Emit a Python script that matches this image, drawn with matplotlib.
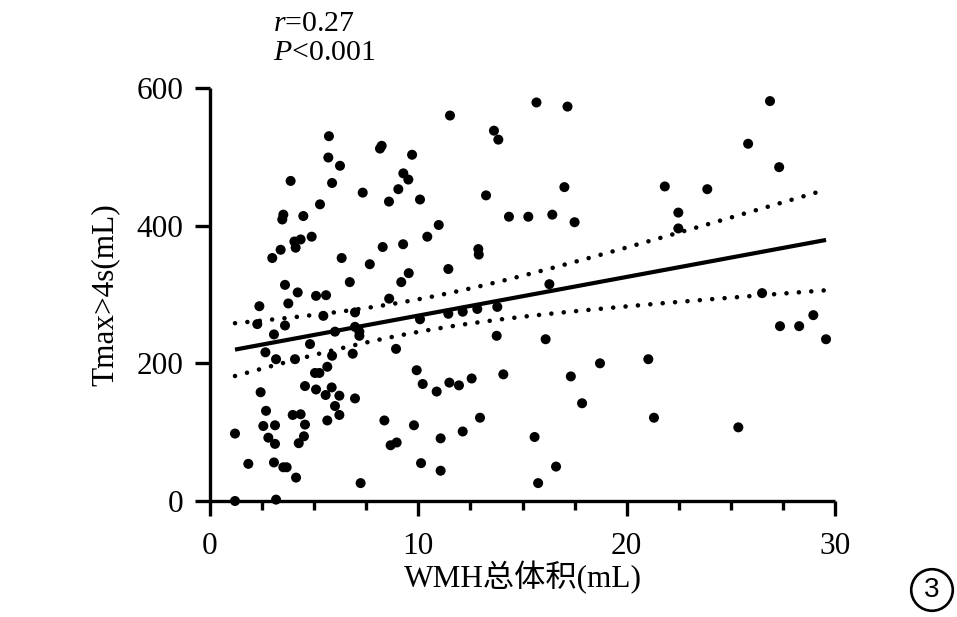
import numpy as np
import matplotlib
matplotlib.use("Agg")
import matplotlib.pyplot as plt
from matplotlib.ticker import MultipleLocator, FixedLocator

# ---- data ----
wmh_volume = [1.2, 1.2, 1.84, 2.37, 2.27, 2.66, 2.43, 2.69, 2.56, 2.8, 2.99, 3.07, 3.17, 3.12, 3.12,
              3.07, 3.17, 3.39, 3.47, 3.52, 3.6, 3.6, 3.76, 3.52, 3.68, 3.87, 4.05, 4.11, 4.35, 4.48,
              4.21, 4.08, 3.97, 4.35, 4.56, 4.51, 4.26, 4.13, 4.56, 4.88, 4.8, 5.09, 5.57, 5.28, 5.04,
              5.25, 5.09, 5.44, 5.71, 5.68, 5.86, 5.86, 5.63, 5.84, 5.55, 5.63, 6.0, 6.0, 6.24, 6.32,
              6.21, 6.21, 6.71, 6.96, 6.96, 7.17, 7.17, 6.85, 6.96, 7.23, 7.33, 7.67, 8.16, 8.24, 8.29,
              8.59, 8.6, 8.37, 8.67, 8.96, 8.93, 9.04, 9.28, 9.52, 9.27, 9.18, 9.54, 9.7, 9.92, 9.79,
              10.08, 10.08, 10.21, 10.13, 10.43, 10.98, 10.88, 11.07, 11.07, 11.44, 11.44, 11.49, 11.52,
              11.95, 12.13, 12.13, 12.56, 12.83, 12.88, 12.9, 12.96, 13.25, 13.63, 13.84, 13.79, 13.76,
              14.08, 14.35, 15.28, 15.58, 15.67, 15.75, 16.11, 16.29, 16.43, 16.61, 17.01, 17.16, 17.32,
              17.5, 17.86, 18.72, 21.04, 21.31, 21.83, 22.48, 22.48, 23.87, 25.36, 25.83, 26.5, 26.88,
              27.32, 27.36, 28.28, 28.96, 29.57]
tmax_volume = [98, 0, 54, 283, 257, 216, 158, 131, 109, 92, 353, 242, 206, 110, 83,
               56, 2, 365, 409, 416, 314, 255, 287, 49, 49, 465, 377, 368, 380, 414,
               303, 206, 125, 126, 111, 94, 84, 34, 167, 384, 228, 298, 299, 431, 186,
               186, 162, 269, 530, 499, 462, 211, 195, 165, 154, 117, 246, 138, 487, 353,
               153, 125, 318, 274, 253, 246, 240, 214, 149, 26, 448, 344, 512, 516, 369,
               435, 294, 117, 81, 85, 221, 453, 476, 467, 373, 318, 331, 503, 190, 110,
               438, 264, 170, 55, 384, 401, 159, 91, 44, 337, 272, 172, 560,
               168, 275, 101, 178, 279, 366, 358, 121, 444, 538, 525, 282, 240,
               184, 413, 413, 93, 579, 26, 235, 315, 416, 50, 456, 573, 181,
               405, 142, 200, 206, 121, 457, 419, 396, 453, 107, 519, 302, 581,
               485, 254, 254, 270, 235]

x_ticks = [0, 10, 20, 30]
y_ticks = [0, 200, 400, 600]
x_label = "WMH总体积(mL)"
y_label = "Tmax>4s(mL)"
stat_r = "0.27"
stat_p = "0.001"
panel_tag = "3"

plt.rcParams['font.family'] = ['Liberation Serif', 'Noto Sans CJK SC', 'DejaVu Sans']
plt.rcParams['mathtext.fontset'] = 'custom'
plt.rcParams['mathtext.rm'] = 'Liberation Serif'
plt.rcParams['mathtext.it'] = 'Liberation Serif:italic'

x = np.array(wmh_volume, dtype=float)
y = np.array(tmax_volume, dtype=float)

# linear regression with 95% confidence band
n = len(x)
slope, intercept = np.polyfit(x, y, 1)
resid = y - (slope * x + intercept)
s = np.sqrt(np.sum(resid ** 2) / (n - 2))
xbar = x.mean()
sxx = np.sum((x - xbar) ** 2)
t_crit = 1.976
xf = np.linspace(x.min(), x.max(), 200)
yf = slope * xf + intercept
half = t_crit * s * np.sqrt(1.0 / n + (xf - xbar) ** 2 / sxx)

fig = plt.figure(figsize=(9.57, 6.17), dpi=100)
ax = fig.add_axes([210 / 957, 1 - 501 / 617, 625 / 957, 413 / 617])

ax.scatter(x, y, s=52, color='black', edgecolors='none', zorder=3, clip_on=False)
ax.plot(xf, yf, color='black', lw=3.0, solid_capstyle='butt', zorder=2)
for band in (yf + half, yf - half):
    ax.plot(xf, band, color='black', lw=3.3, linestyle=(0, (0.01, 2.7)),
            dash_capstyle='round', zorder=2)

ax.set_xlim(0, 30)
ax.set_ylim(0, 600)
ax.xaxis.set_major_locator(FixedLocator(x_ticks))
ax.xaxis.set_minor_locator(MultipleLocator(2.5))
ax.yaxis.set_major_locator(FixedLocator(y_ticks))
ax.set_xticklabels([str(v) for v in x_ticks])
ax.set_yticklabels([str(v) for v in y_ticks])

for side in ('top', 'right'):
    ax.spines[side].set_visible(False)
for side in ('left', 'bottom'):
    ax.spines[side].set_linewidth(2.4)
    ax.spines[side].set_capstyle('butt')

ax.tick_params(axis='both', which='major', direction='out', length=11, width=2.4,
               labelsize=22.5, pad=8)
ax.tick_params(axis='x', which='major', pad=11)
ax.tick_params(axis='x', which='minor', direction='out', length=6.5, width=2.4)

ax.set_xlabel(x_label, fontsize=22.5)
ax.xaxis.set_label_coords(0.5, -(578 - 501) / 413)
ax.xaxis.label.set_va('center')
ax.set_ylabel(y_label, fontsize=22.5)
ax.yaxis.set_label_coords(-(210 - 105) / 625, 0.5)
ax.yaxis.label.set_va('center')

fig.text(273 / 957, 1 - 24 / 617, r"$\it{r}$=" + stat_r, fontsize=21.5, ha='left', va='center')
fig.text(273 / 957, 1 - 53 / 617, r"$\it{P}$<" + stat_p, fontsize=21.5, ha='left', va='center')

fig.text(932 / 957, 1 - 590 / 617, panel_tag, fontsize=20, ha='center', va='center',
         family='Liberation Sans',
         bbox=dict(boxstyle='circle,pad=0.28', fc='none', ec='black', lw=1.9))

fig.savefig("out.png", dpi=100)
